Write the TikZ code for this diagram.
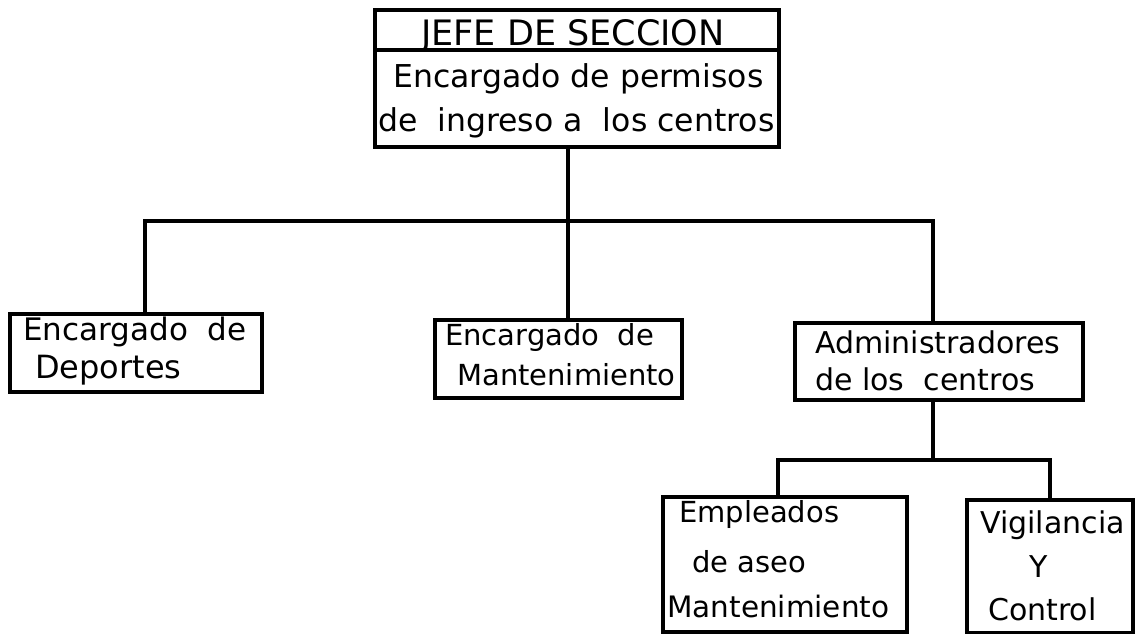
\documentclass[tikz,border=0pt]{standalone}
\usepackage{fontspec}
\setmainfont{DejaVu Sans}
\begin{document}
\begin{tikzpicture}[x=1pt,y=-1pt,
  box/.style={draw,line width=3.2pt,inner sep=0pt},
  conn/.style={line width=3.4pt},
  txt/.style={inner sep=0pt,anchor=base west,font=\fontsize{30}{36}\selectfont}]
\useasboundingbox (0,0) rectangle (1135,634);
% boxes
\node[box,minimum width=404pt,minimum height=40pt] (jefe) at (577,30) {};
\node[box,minimum width=404pt,minimum height=97pt] (enc) at (577,98.5) {};
\node[box,minimum width=252pt,minimum height=78pt] (d1) at (136,353) {};
\node[box,minimum width=247pt,minimum height=78pt] (d2) at (558.5,359) {};
\node[box,minimum width=288pt,minimum height=77pt] (d3) at (939,361.5) {};
\node[box,minimum width=244pt,minimum height=135pt] (e1) at (785,564.5) {};
\node[box,minimum width=166pt,minimum height=133pt] (e2) at (1050,566.5) {};
% texts
\node[txt,anchor=base,font=\fontsize{35}{40}\selectfont] (t0) at (573,45.5) {JEFE DE SECCION};
\node[txt,font=\fontsize{31.5}{36}\selectfont] (t1) at (393,88) {Encargado de permisos};
\node[txt,font=\fontsize{31.5}{36}\selectfont] (t2) at (378,131) {de\ \ ingreso a\ \ los centros};
\node[txt,font=\fontsize{31}{36}\selectfont] (t3) at (23,340) {Encargado\ \ de};
\node[txt,font=\fontsize{32}{36}\selectfont] (t4) at (35,378) {Deportes};
\node[txt,font=\fontsize{29}{36}\selectfont] (t5) at (445,345) {Encargado\ \ de};
\node[txt,font=\fontsize{29}{36}\selectfont] (t6) at (457,385) {Mantenimiento};
\node[txt,font=\fontsize{30}{36}\selectfont] (t7) at (815,353) {Administradores};
\node[txt,font=\fontsize{30}{36}\selectfont] (t8) at (815,390) {de los\ \ centros};
\node[txt,font=\fontsize{29}{36}\selectfont] (t9) at (679,522) {Empleados};
\node[txt,font=\fontsize{29}{36}\selectfont] (t10) at (692,572) {de aseo};
\node[txt,font=\fontsize{29.5}{36}\selectfont] (t11) at (667,617) {Mantenimiento};
\node[txt,font=\fontsize{30}{36}\selectfont] (t12) at (980,533) {Vigilancia};
\node[txt,anchor=base,font=\fontsize{30}{36}\selectfont] (t13) at (1039,577) {Y};
\node[txt,font=\fontsize{30}{36}\selectfont] (t14) at (988,620) {Control};
% connectors
\coordinate (b1) at (568,221);
\coordinate (bL) at (145,221);
\coordinate (bR) at (933,221);
\draw[conn] (b1 |- enc.south) -- (b1 |- d2.north);
\draw[conn] (bL |- d1.north) -- (bL) -- (bR) -- (bR |- d3.north);
\coordinate (c1) at (933,460);
\coordinate (cL) at (778,460);
\coordinate (cR) at (1050,460);
\draw[conn] (c1 |- d3.south) -- (c1);
\draw[conn] (cL |- e1.north) -- (cL) -- (cR) -- (cR |- e2.north);
\end{tikzpicture}
\end{document}
